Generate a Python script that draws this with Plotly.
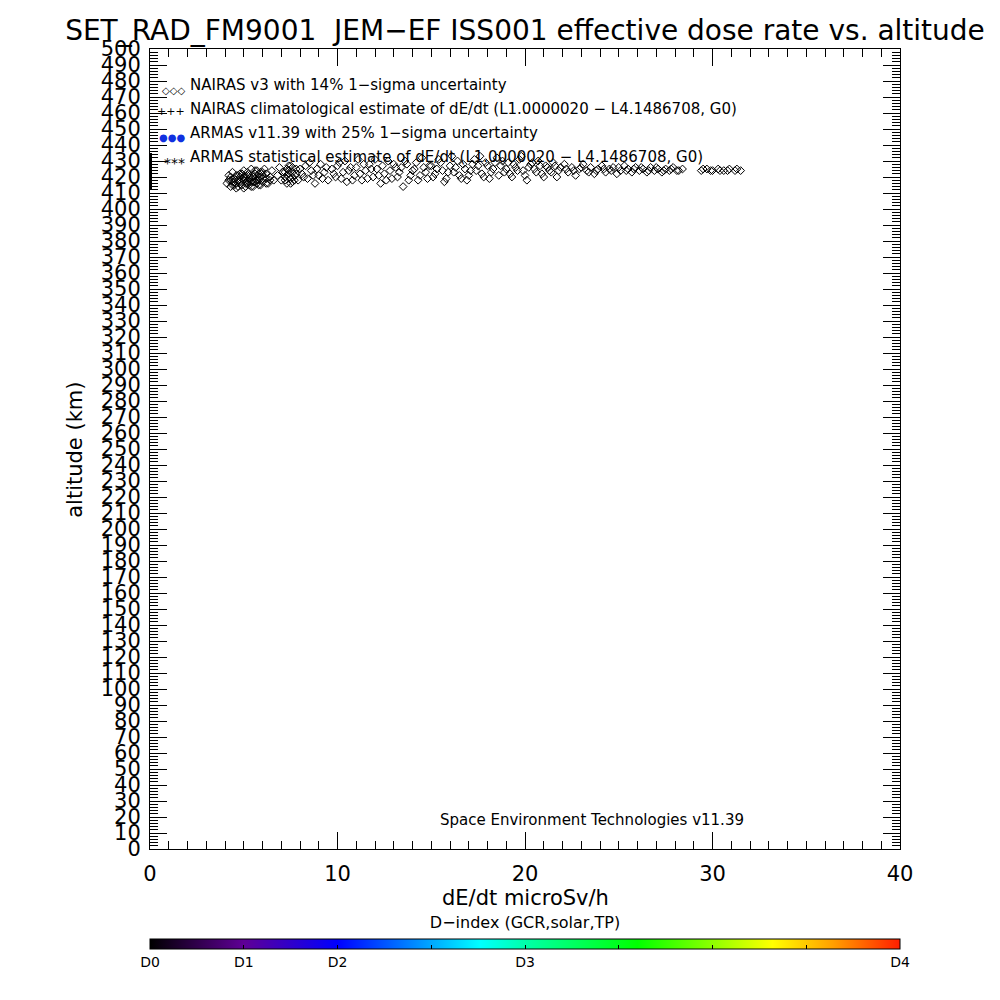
import plotly.graph_objects as go

# ---------------- data ----------------
nairas_dose = [
    4.1, 4.2, 4.3, 4.3, 4.4, 4.5, 4.5, 4.6, 4.6, 4.7, 4.7, 4.8, 4.8, 4.9, 4.9, 5.0, 5.0, 5.1, 5.1, 5.2,
    5.2, 5.3, 5.3, 5.4, 5.4, 5.5, 5.5, 5.6, 5.6, 5.7, 5.7, 5.8, 5.8, 5.9, 5.9, 6.0, 6.0, 6.1, 6.2, 6.2,
    6.3, 6.4, 6.5, 6.6,
    4.2, 4.4, 4.4, 4.6, 4.8, 5.0, 5.0, 5.2, 5.2, 5.4, 5.4, 5.6, 5.6, 5.8, 5.8, 6.0, 6.0, 6.2, 6.4, 4.9,
    5.1, 5.3, 5.5, 5.7, 5.9, 4.5, 4.7, 4.3,
    6.8, 6.9, 7.0, 7.1, 7.2, 7.3, 7.3, 7.4, 7.5, 7.5, 7.6, 7.6, 7.7, 7.8, 7.9, 8.1, 8.3, 8.4, 8.6, 8.8,
    9.0, 9.1, 9.3, 9.5,
    7.2, 7.3, 7.4, 7.5, 7.6, 7.7, 7.8, 7.4, 7.6, 7.2, 8.0, 8.2, 8.5, 8.7, 8.9, 9.2, 9.4,
    9.7, 9.9, 10.1, 10.3, 10.5, 10.7, 10.9, 11.1, 11.3, 11.5, 11.7, 11.9, 12.1, 12.3, 12.5, 12.7, 12.9,
    13.1, 13.3, 13.5, 13.7, 13.9, 14.1, 14.3, 14.5, 14.7, 14.9,
    9.8, 10.0, 10.2, 10.4, 10.6, 10.8, 11.0, 11.2, 11.4, 11.6, 11.8, 12.0, 12.2, 12.4, 12.6, 12.8, 13.0,
    13.2, 13.4, 13.6, 13.8, 14.0, 14.2, 14.4, 14.6, 14.8,
    15.1, 15.3, 15.5, 15.7, 15.9, 16.1, 16.3, 16.5, 16.7, 16.9, 17.1, 17.3, 17.5, 17.7, 17.9, 18.1, 18.3,
    18.5, 18.7, 18.9, 19.1, 19.3, 19.5, 19.7, 19.9, 20.1, 20.3, 20.5, 20.7, 20.9, 21.1, 21.3, 21.5, 21.7,
    21.9,
    15.0, 15.2, 15.4, 15.6, 15.8, 16.0, 16.2, 16.4, 16.6, 16.8, 17.0, 17.2, 17.4, 17.6, 17.8, 18.0, 18.2,
    18.4, 18.6, 18.8, 19.0, 19.2, 19.4, 19.6, 19.8, 20.0, 20.2, 20.4, 20.6, 20.8, 21.0, 21.2, 21.4, 21.6,
    21.8,
    22.1, 22.3, 22.5, 22.7, 22.9, 23.1, 23.3, 23.5, 23.7, 23.9, 24.1, 24.3, 24.5, 24.7, 24.9, 25.1, 25.3,
    25.5, 25.7, 25.9, 26.1, 26.3, 26.5, 26.7, 26.9, 27.1, 27.3, 27.5, 27.7, 27.9, 28.1, 28.4,
    22.2, 22.6, 23.0, 23.4, 23.8, 24.2, 24.6, 25.0, 25.4, 25.8, 26.2, 26.6, 27.0, 27.4, 27.8, 28.2,
    29.4, 29.7, 30.0, 30.3, 30.6, 30.9, 31.2, 31.5,
    29.5, 29.9, 30.4, 30.8, 31.3,
]
nairas_alt = [
    416, 418, 414, 420, 417, 415, 419, 421, 416, 418, 414, 420, 417, 415, 422, 418, 413, 420, 416, 423,
    418, 415, 421, 419, 425, 417, 414, 422, 419, 416, 424, 420, 418, 423, 415, 421, 417, 425, 419, 422,
    416, 420, 424, 418,
    421, 415, 423, 413, 422, 424, 420, 416, 421, 414, 417, 424, 417, 415, 422, 419, 423, 416, 418, 419,
    414, 419, 420, 418, 420, 417, 421, 418,
    421, 426, 418, 423, 420, 416, 425, 422, 419, 427, 417, 423, 421, 425, 418, 422, 427, 419, 424, 416,
    421, 428, 423, 418,
    418, 421, 424, 416, 420, 418, 422, 427, 426, 423, 425, 420, 429, 421, 425, 419, 426,
    425, 420, 429, 423, 417, 426, 421, 431, 418, 424, 428, 420, 425, 416, 422, 430, 419,
    426, 423, 414, 428, 421, 425, 418, 432, 423, 427,
    422, 427, 419, 430, 424, 418, 426, 422, 428, 419, 425, 431, 421, 427, 418, 424, 428,
    420, 426, 430, 418, 424, 429, 421, 426, 419,
    420, 425, 429, 417, 423, 433, 426, 421, 428, 418, 424, 431, 427, 422, 429, 419, 425,
    432, 427, 423, 429, 420, 426, 431, 424, 418, 428, 425, 430, 422, 427, 424, 429, 420,
    426,
    427, 422, 431, 424, 419, 427, 423, 430, 419, 425, 421, 428, 424, 433, 420, 427, 423,
    429, 421, 430, 425, 422, 428, 424, 433, 421, 426, 429, 423, 427, 420, 426, 423, 427,
    424,
    428, 423, 426, 421, 425, 428, 424, 426, 422, 425, 427, 423, 425, 426, 422, 424, 427,
    425, 423, 426, 424, 425, 423, 426, 424, 425, 423, 425, 424, 426, 424, 425,
    425, 424, 426, 423, 424, 425, 424, 426, 424, 425, 426, 424, 426, 424, 425, 424,
    424, 425, 424, 425, 424, 425, 424, 424,
    425, 424, 424, 424, 425,
]
clim_dose = [0, 0]
clim_alt = [412, 435]

x_range = [0, 40]
y_range = [0, 500]
x_ticks = [0, 10, 20, 30, 40]
y_ticks = list(range(0, 501, 10))

cbar_tickvals = [0, 0.125, 0.25, 0.375, 0.5, 0.625, 0.75, 0.875, 1.0]
cbar_ticktext = ["D0", "D1", "D2", "", "D3", "", "", "", "D4"]

legend_labels = [
    "NAIRAS v3 with 14% 1\u2212sigma uncertainty",
    "NAIRAS climatological estimate of dE/dt (L1.0000020 \u2212 L4.1486708, G0)",
    "ARMAS v11.39 with 25% 1\u2212sigma uncertainty",
    "ARMAS statistical estimate of dE/dt (L1.0000020 \u2212 L4.1486708, G0)",
]
legend_symbols = ["\u25c7\u25c7\u25c7", "+++", "\u25cf\u25cf\u25cf", "***"]
legend_colors = ["black", "black", "#1030e0", "black"]

FONT = "DejaVu Sans"

fig = go.Figure()

fig.add_trace(go.Scatter(
    x=clim_dose, y=clim_alt, mode="lines",
    line=dict(color="black", width=4), showlegend=False, hoverinfo="skip",
))
fig.add_trace(go.Scatter(
    x=nairas_dose, y=nairas_alt, mode="markers",
    marker=dict(symbol="diamond-open", size=6, color="black", line=dict(width=1, color="black")),
    showlegend=False,
))

colorscale = [
    [0.0, "rgb(0,0,0)"],
    [0.125, "rgb(95,0,150)"],
    [0.25, "rgb(0,0,255)"],
    [0.44, "rgb(0,255,255)"],
    [0.5, "rgb(0,255,170)"],
    [0.65, "rgb(0,255,0)"],
    [0.83, "rgb(255,255,0)"],
    [0.91, "rgb(255,160,0)"],
    [1.0, "rgb(255,30,0)"],
]
fig.add_trace(go.Scatter(
    x=[None], y=[None], mode="markers", showlegend=False, hoverinfo="skip",
    marker=dict(color=[0], cmin=0, cmax=1, colorscale=colorscale, showscale=True,
                colorbar=dict(
                    orientation="h", x=0.5, xanchor="center", y=-0.089, yanchor="top",
                    len=1.0, lenmode="fraction", thickness=10, xpad=0, ypad=0,
                    outlinewidth=1, outlinecolor="black",
                    tickmode="array", tickvals=cbar_tickvals, ticktext=cbar_ticktext,
                    ticks="inside", ticklen=4, tickcolor="black",
                    tickfont=dict(family=FONT, size=14, color="black"),
                    title=dict(text="D\u2212index (GCR,solar,TP)", side="top",
                               font=dict(family=FONT, size=16, color="black")),
                )),
))

axis_common = dict(
    showgrid=False, zeroline=False, showline=True, linecolor="black", linewidth=1,
    ticks="inside", ticklen=17, tickcolor="black", mirror="ticks",
)
fig.update_xaxes(
    range=x_range, tickmode="array", tickvals=x_ticks,
    tickfont=dict(family=FONT, size=21, color="black"),
    minor=dict(dtick=1, ticks="inside", ticklen=8, tickcolor="black", showgrid=False),
    ticklabelstandoff=6,
    **axis_common,
)
fig.update_yaxes(
    range=y_range, tickmode="array", tickvals=y_ticks,
    tickfont=dict(family=FONT, size=21, color="black"),
    minor=dict(dtick=2, ticks="inside", ticklen=8, tickcolor="black", showgrid=False),
    ticklabelstandoff=4,
    **axis_common,
)

annotations = []
row_y = [0.955, 0.925, 0.895, 0.865]
sym_sizes = [10, 11, 10, 14]
sym_dy = [-5, -3, -4, -6]
for lbl, sym, col, yy, ss, dy in zip(legend_labels, legend_symbols, legend_colors, row_y, sym_sizes, sym_dy):
    annotations.append(dict(x=0.0507, y=yy, xref="paper", yref="paper", text=lbl, showarrow=False,
                            xanchor="left", yanchor="middle",
                            font=dict(family=FONT, size=15, color="black")))
    annotations.append(dict(x=0.0493, y=yy, xref="paper", yref="paper", text=sym, showarrow=False,
                            xanchor="right", yanchor="middle", yshift=dy,
                            font=dict(family=FONT, size=ss, color=col)))
annotations.append(dict(x=0.589, y=0.036, xref="paper", yref="paper",
                        text="Space Environment Technologies v11.39", showarrow=False,
                        xanchor="center", yanchor="middle",
                        font=dict(family=FONT, size=15, color="black")))
annotations.append(dict(x=0.5, y=-0.061, xref="paper", yref="paper",
                        text="dE/dt microSv/h", showarrow=False,
                        xanchor="center", yanchor="middle",
                        font=dict(family=FONT, size=21, color="black")))
annotations.append(dict(x=-0.1, y=0.499, xref="paper", yref="paper",
                        text="altitude (km)", showarrow=False, textangle=-90,
                        xanchor="center", yanchor="middle",
                        font=dict(family=FONT, size=21, color="black")))

fig.update_layout(
    width=1000, height=1000,
    margin=dict(l=142, r=108, t=41, b=159, autoexpand=False),
    paper_bgcolor="white", plot_bgcolor="white",
    title=dict(text="SET_RAD_FM9001  JEM\u2212EF ISS001 effective dose rate vs. altitude",
               x=0.517, xanchor="center", y=0.978, yanchor="middle",
               font=dict(family=FONT, size=28, color="black")),
    annotations=annotations,
    showlegend=False,
)

fig.write_html("out.html")
